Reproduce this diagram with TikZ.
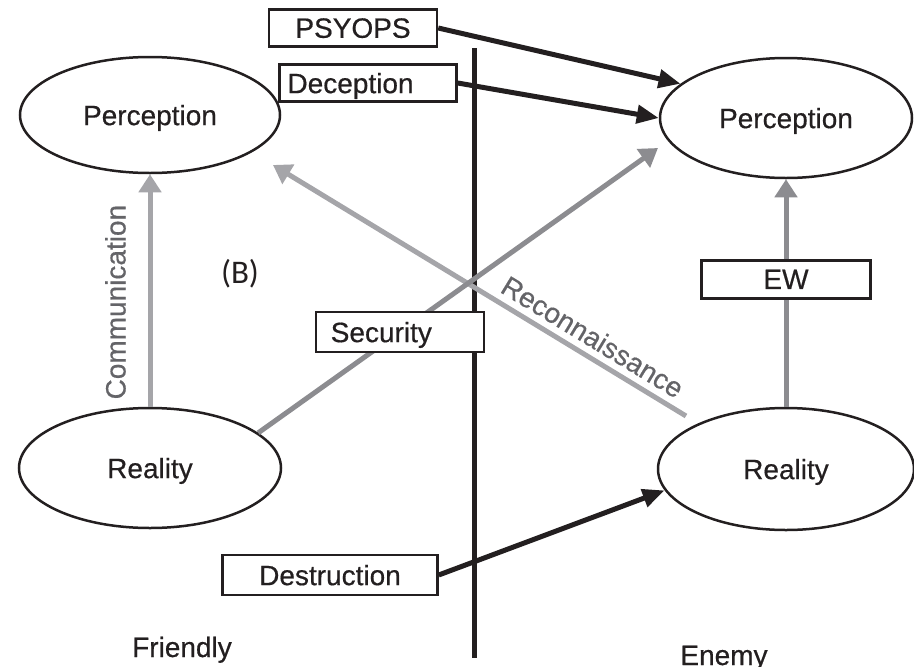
\documentclass[tikz,border=0pt]{standalone}
\usepackage{fontspec}
\setmainfont{Liberation Sans}[FakeBold=0.5]
\newfontfamily\carlito{Carlito}
\usetikzlibrary{shapes.geometric,arrows.meta}

\definecolor{encre}{RGB}{35,31,32}
\definecolor{gris1}{RGB}{165,165,169}
\definecolor{gris2}{RGB}{140,140,144}
\definecolor{gris3}{RGB}{100,100,104}

\tikzset{schema/.style = {x = 1pt, y = -1pt,
                          every node/.style = {font = \fontsize{28}{30}\selectfont,
                                               text = encre, inner sep = 2pt, text depth = 0pt},
                         },
         bulle/.style = {ellipse, draw = encre, line width = 2.5pt,
                         minimum width = #1, inner sep = 0pt},
         bulle/.default = 256pt,
         cadre/.style = {draw = encre, fill = white, line width = 2.5pt,
                         minimum width = #1, minimum height = 38pt, inner sep = 0pt},
         cadre/.default = 168pt,
         fleche/.style = {line width = 5pt, draw = encre,
                          -{Triangle[length = 22pt, width = 18pt]}},
         flechegris/.style = {line width = 5pt, draw = #1,
                              -{Triangle[length = 18pt, width = 22pt]}},
         flechegris/.default = gris1
        }

\begin{document}
\begin{tikzpicture}[schema]
  \useasboundingbox (0,0) rectangle (914,667);

  \coordinate (haut) at (474,48);
  \coordinate (bas) at (474,658);
  \draw[line width = 5pt, encre] (haut) -- (bas);

  \node[bulle = 260pt, minimum height = 116pt] (perA) at (150,115) {Perception};
  \node[bulle = 262pt, minimum height = 120pt] (reaA) at (150,468) {Reality};
  \node[bulle = 252pt, minimum height = 120pt] (perE) at (786,118) {Perception};
  \node[bulle = 256pt, minimum height = 122pt] (reaE) at (786,469) {Reality};

  \node[font = \carlito\fontsize{33}{36}\selectfont, anchor = base] (lettre) at (240,283) {(B)};

  \draw[flechegris] (reaA) -- node[sloped, above = 20pt, pos = 0.45, text = gris3] {Communication} (perA);

  \coordinate (departR) at (686,416);
  \coordinate (pointeR) at (273,165);
  \draw[flechegris] (departR) -- (pointeR);
  \path (pointeR) -- node[sloped, above = 7pt, pos = 0.75, text = gris3] {Reconnaissance} (departR);

  \coordinate (pointeS) at (658,148);
  \draw[flechegris = gris2] (reaA.18) -- node[cadre, pos = 0.354, minimum height = 40pt,
        text width = 138pt, align = left, inner xsep = 15pt] (secu) {Security} (pointeS);

  \draw[flechegris = gris2] (reaE) -- node[cadre = 169pt, pos = 0.56] (ew) {EW} (perE);

  \node[cadre = 168pt, minimum height = 37pt] (psy) at (353,28) {PSYOPS};
  \node[cadre = 177pt, minimum height = 37pt, text width = 161pt, align = left,
        inner xsep = 8pt] (dec) at (368,83) {Deception};
  \node[cadre = 215pt, minimum height = 40pt] (des) at (330,575) {Destruction};

  \draw[fleche] (psy.east) -- (perE.162);
  \draw[fleche] (dec.east) -- (perE.west);
  \draw[fleche] (des.east) -- (reaE.190);

  \node[anchor = base] (ami) at (182,657) {Friendly};
  \node[anchor = base] (ennemi) at (724,665) {Enemy};
\end{tikzpicture}
\end{document}
